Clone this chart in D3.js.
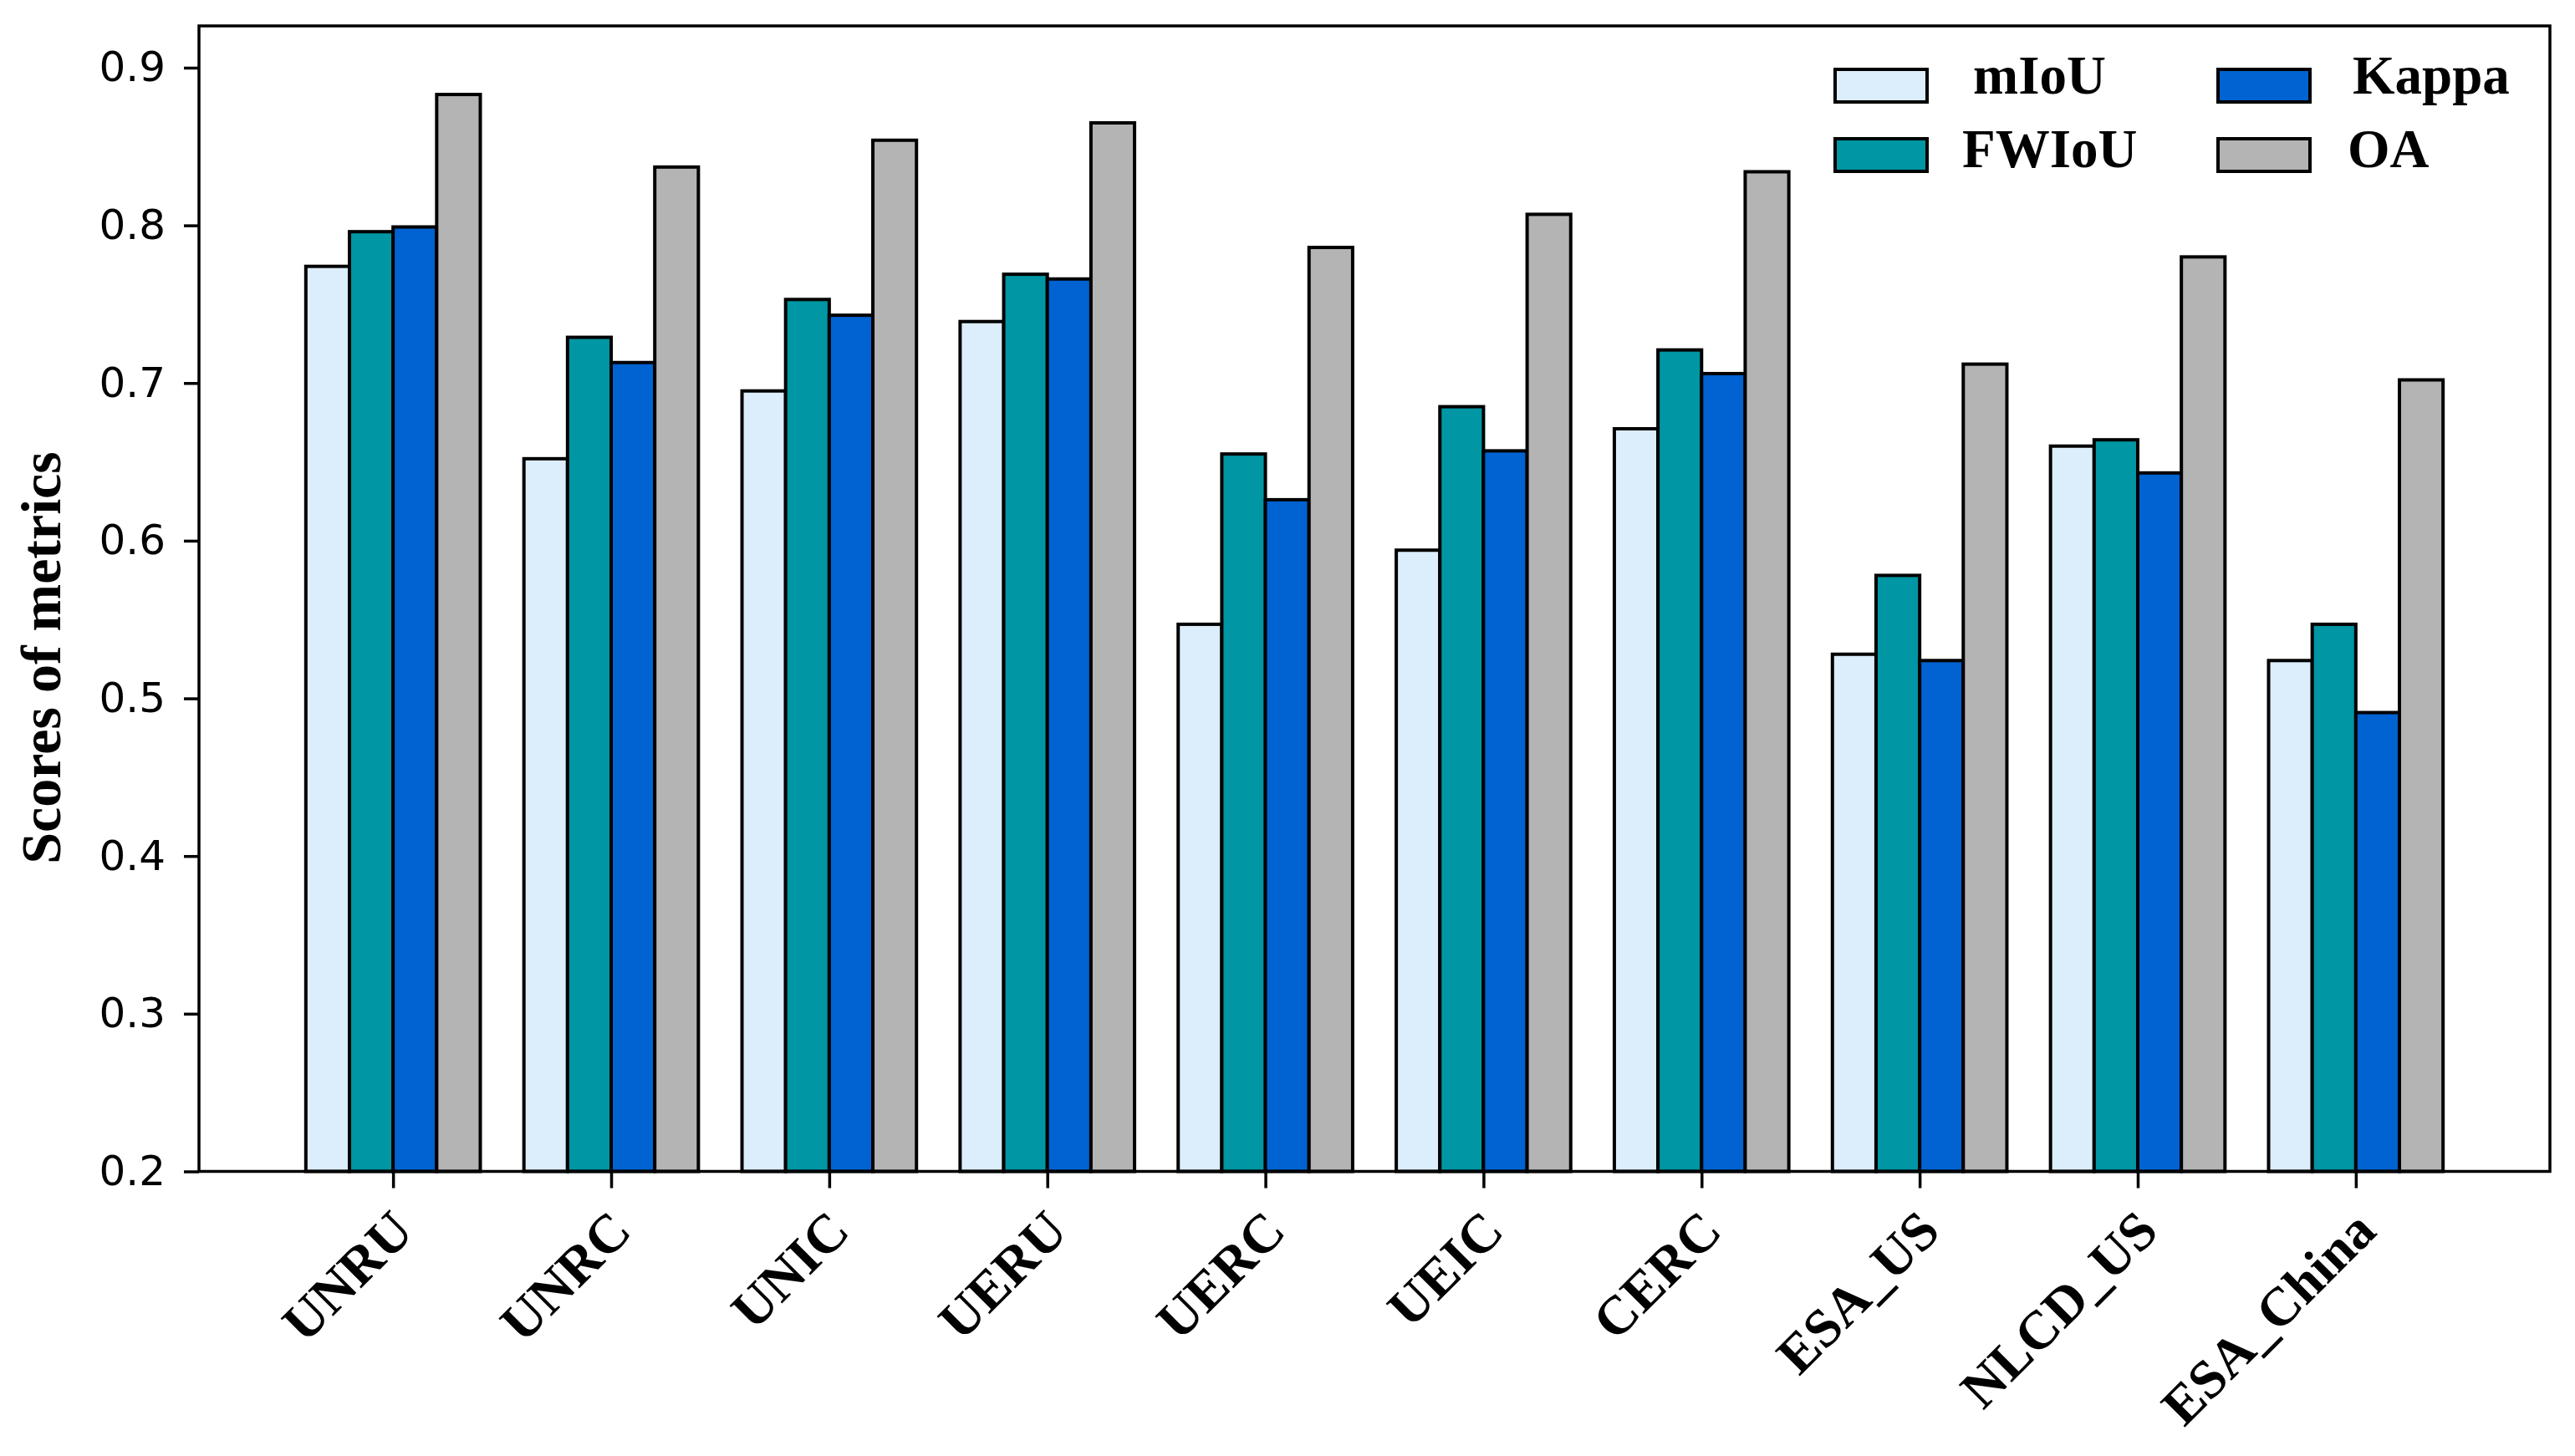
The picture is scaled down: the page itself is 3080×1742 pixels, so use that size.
<!DOCTYPE html>
<html>
<head>
<meta charset="utf-8">
<script src="https://cdn.jsdelivr.net/npm/d3@7"></script>
<style>
  html, body { margin: 0; padding: 0; background: #fff; }
  svg { display: block; }
</style>
</head>
<body>
<svg id="chart" width="3080" height="1742"></svg>
<script>
const categories = ["UNRU", "UNRC", "UNIC", "UERU", "UERC", "UEIC", "CERC", "ESA_US", "NLCD_US", "ESA_China"];
const seriesNames = ["mIoU", "FWIoU", "Kappa", "OA"];
const mIoU  = [0.774, 0.652, 0.695, 0.739, 0.547, 0.594, 0.671, 0.528, 0.660, 0.524];
const FWIoU = [0.796, 0.729, 0.753, 0.769, 0.655, 0.685, 0.721, 0.578, 0.664, 0.547];
const Kappa = [0.799, 0.713, 0.743, 0.766, 0.626, 0.657, 0.706, 0.524, 0.643, 0.491];
const OA    = [0.883, 0.837, 0.854, 0.865, 0.786, 0.807, 0.834, 0.712, 0.780, 0.702];
const yTicks = [0.2, 0.3, 0.4, 0.5, 0.6, 0.7, 0.8, 0.9];
const yLabel = "Scores of metrics";

(function () {
const seriesValues = [mIoU, FWIoU, Kappa, OA];
const colors = ["#dcedfc", "#0096a3", "#0063d1", "#b4b4b4"];

const svg = d3.select("#chart");
const mLeft = 238, mRight = 3050, mTop = 31, mBottom = 1401.5;

const x = d3.scaleLinear().domain([-0.89, categories.length - 1 + 0.89]).range([mLeft, mRight]);
const y = d3.scaleLinear().domain([0.2, 0.9265]).range([mBottom, mTop]);
const barW = 0.2;

// bars
seriesValues.forEach((vals, j) => {
  const off = (j - 1.5) * barW;
  svg.append("g").selectAll("rect").data(vals).join("rect")
    .attr("x", (d, i) => x(i + off - barW / 2))
    .attr("width", x(barW) - x(0))
    .attr("y", d => y(d))
    .attr("height", d => y(0.2) - y(d))
    .attr("fill", colors[j])
    .attr("stroke", "#000")
    .attr("stroke-width", 4);
});

// y axis
const yAxis = svg.append("g")
  .attr("transform", `translate(${mLeft},0)`)
  .call(d3.axisLeft(y).tickValues(yTicks).tickFormat(d3.format(".1f")).tickSize(18).tickPadding(22));
yAxis.select(".domain").remove();
yAxis.selectAll(".tick line").attr("stroke", "#000").attr("stroke-width", 3.5);
yAxis.selectAll(".tick text")
  .attr("font-family", "DejaVu Sans")
  .attr("font-size", 50)
  .attr("fill", "#000");

// x axis
const xAxis = svg.append("g")
  .attr("transform", `translate(0,${mBottom})`)
  .call(d3.axisBottom(x).tickValues(d3.range(categories.length)).tickSize(20).tickFormat(""));
xAxis.select(".domain").remove();
xAxis.selectAll(".tick line").attr("stroke", "#000").attr("stroke-width", 3.5);

svg.append("g").selectAll("text").data(categories).join("text")
  .attr("transform", (d, i) => `translate(${x(i) + 27},1476) rotate(-45)`)
  .attr("text-anchor", "end")
  .attr("font-family", "Liberation Serif")
  .attr("font-weight", "bold")
  .attr("font-size", 65)
  .attr("fill", "#000")
  .text(d => d);

// frame
svg.append("rect")
  .attr("x", mLeft).attr("y", mTop)
  .attr("width", mRight - mLeft).attr("height", mBottom - mTop)
  .attr("fill", "none").attr("stroke", "#000").attr("stroke-width", 3.5);

// y label
svg.append("text")
  .attr("transform", `translate(72,787) rotate(-90)`)
  .attr("text-anchor", "middle")
  .attr("font-family", "Liberation Serif")
  .attr("font-weight", "bold")
  .attr("font-size", 68)
  .attr("fill", "#000")
  .text(yLabel);

// legend
const legendPos = [
  {px: 2195, tx: 2360, py: 83, ty: 112},
  {px: 2195, tx: 2347, py: 166, ty: 200},
  {px: 2653, tx: 2814, py: 83, ty: 112},
  {px: 2653, tx: 2808, py: 166, ty: 200}
];
const lg = svg.append("g");
seriesNames.forEach((name, j) => {
  const p = legendPos[j];
  lg.append("rect")
    .attr("x", p.px).attr("y", p.py)
    .attr("width", 110).attr("height", 39)
    .attr("fill", colors[j]).attr("stroke", "#000").attr("stroke-width", 4);
  lg.append("text")
    .attr("x", p.tx).attr("y", p.ty)
    .attr("font-family", "Liberation Serif")
    .attr("font-weight", "bold")
    .attr("font-size", 65)
    .attr("fill", "#000")
    .text(name);
});
})();
</script>
</body>
</html>
